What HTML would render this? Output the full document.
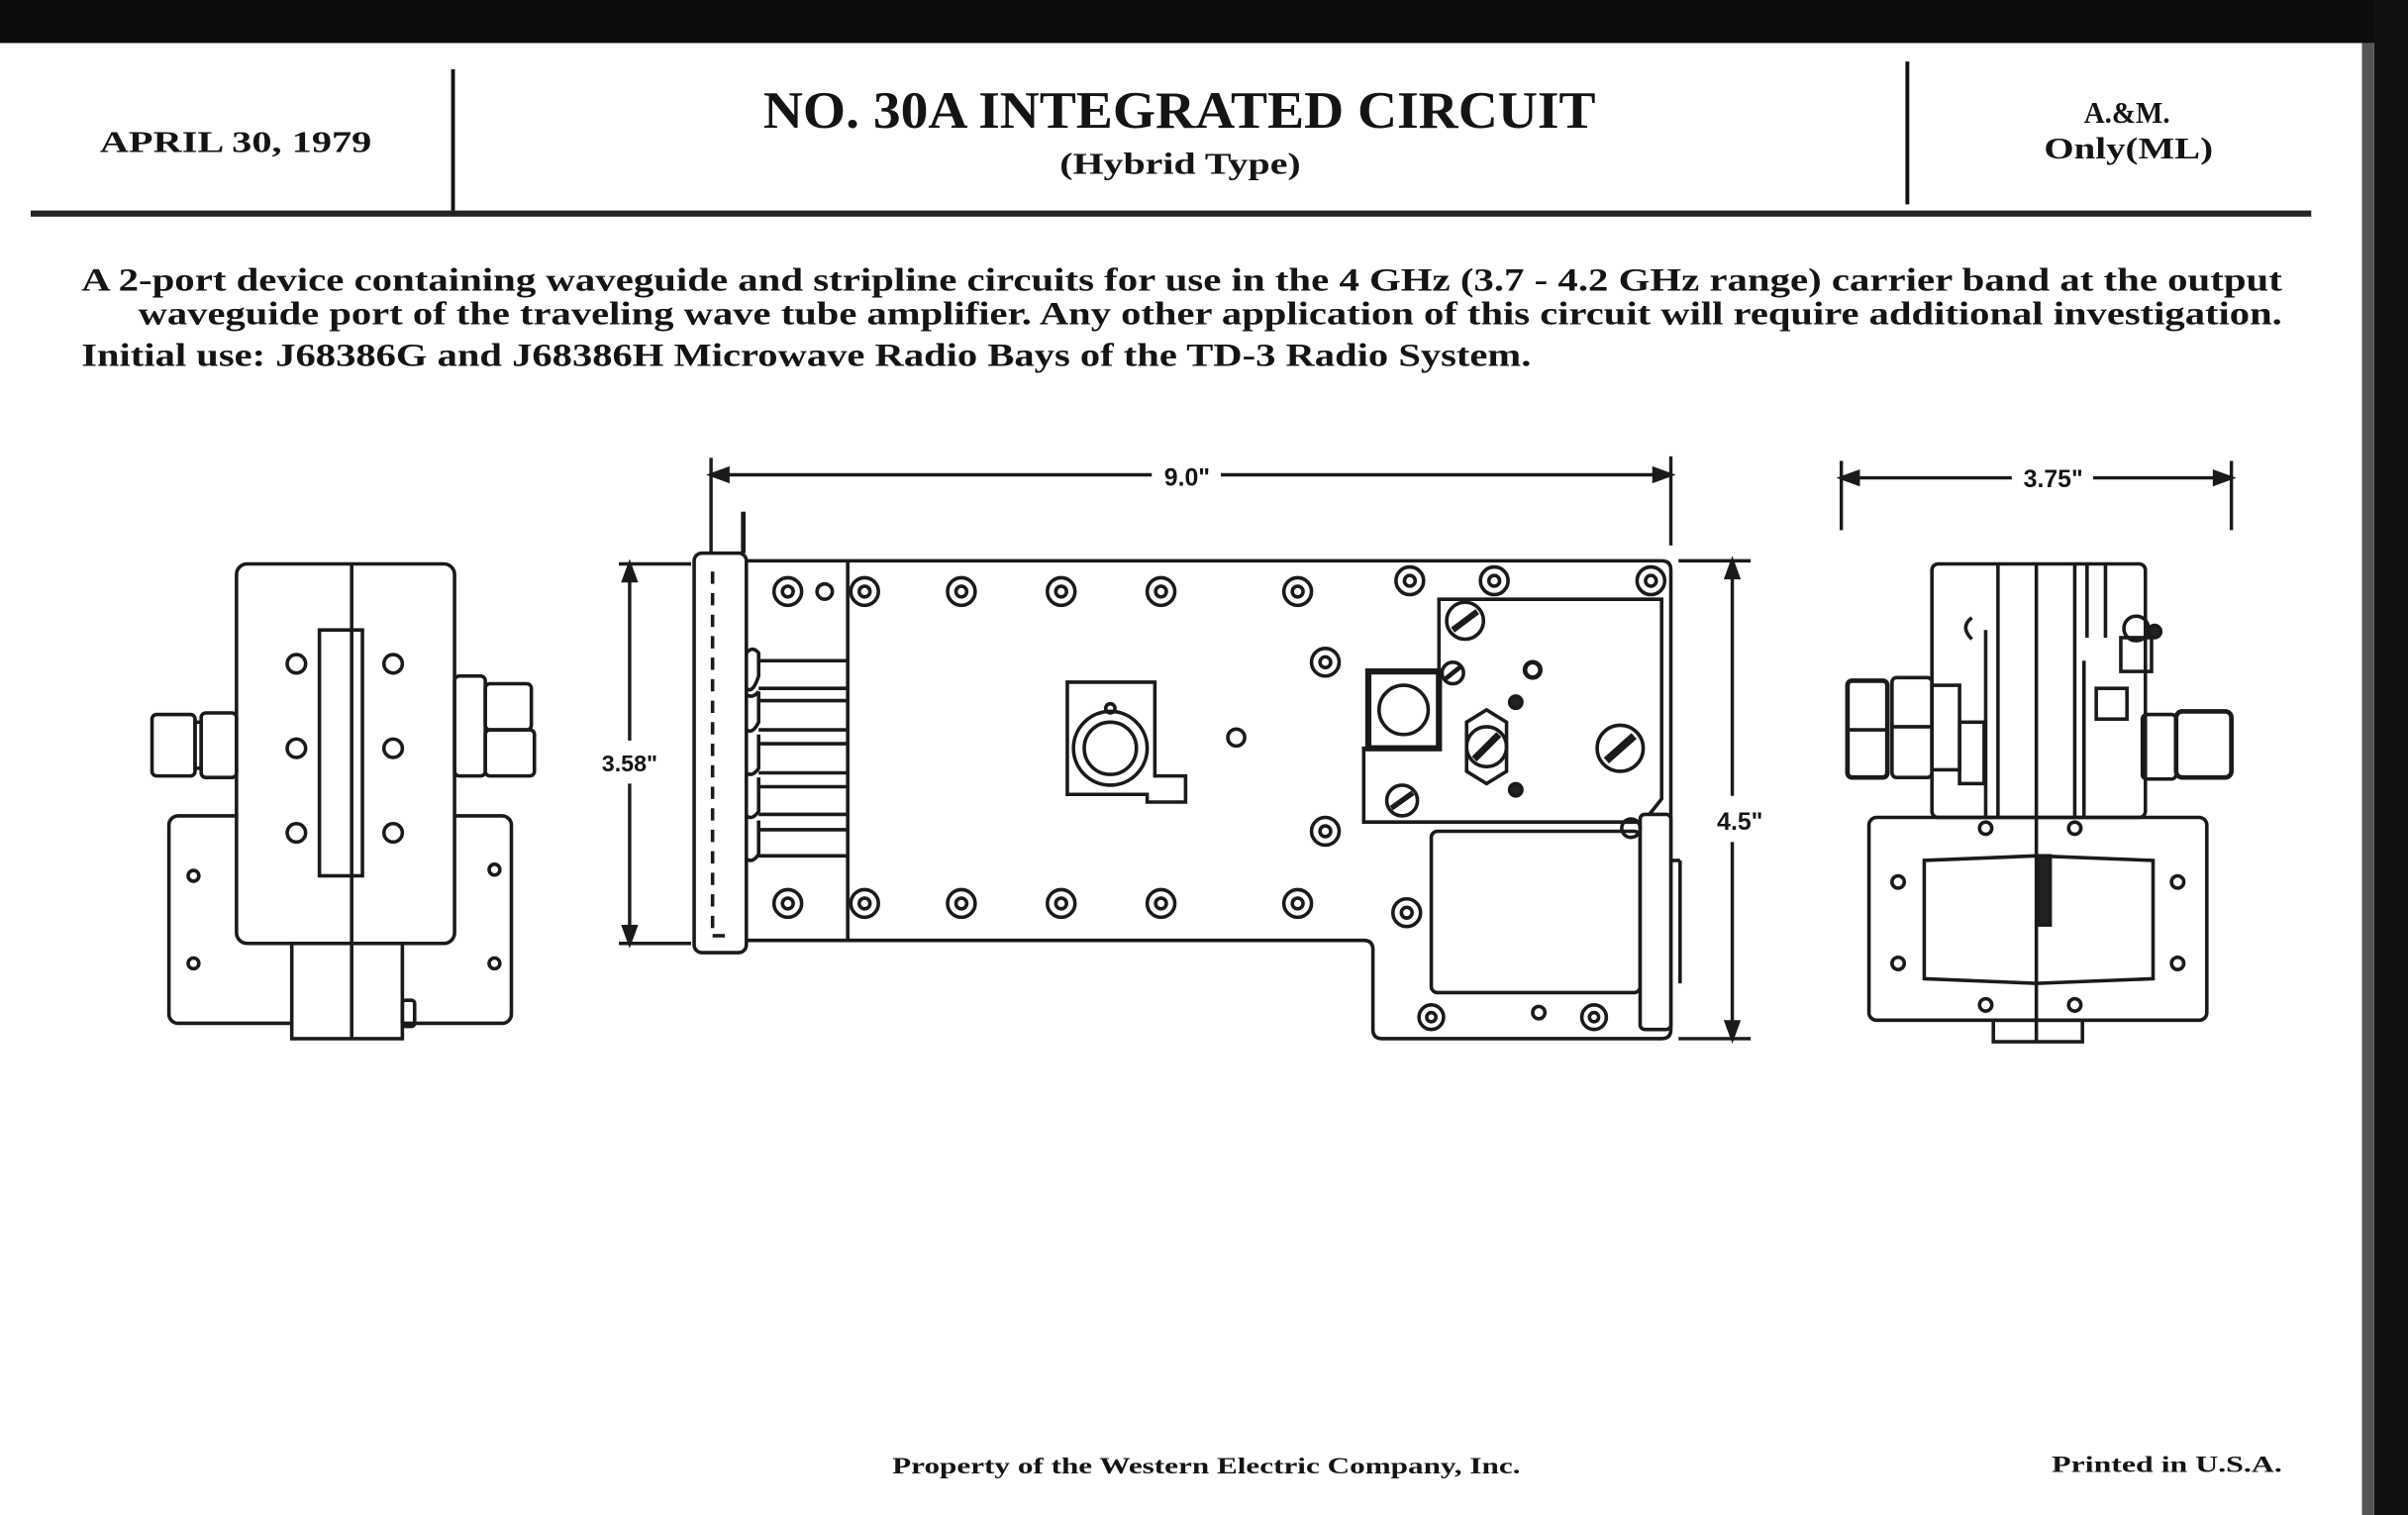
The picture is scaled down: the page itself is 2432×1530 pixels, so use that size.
<!DOCTYPE html>
<html><head><meta charset="utf-8"><style>
html,body{margin:0;padding:0;background:#fff;overflow:hidden}
svg{display:block}
text{font-family:"Liberation Serif",serif;font-weight:bold;fill:#141414}
.s{font-family:"Liberation Sans",sans-serif}
</style></head><body>
<svg width="2432" height="1530" viewBox="0 0 1568 986" preserveAspectRatio="none" xmlns="http://www.w3.org/2000/svg">
<rect x="0" y="0" width="1568" height="986" fill="#fff"/>
<rect x="0" y="0" width="1568" height="28" fill="#0c0c0c"/>
<rect x="1546" y="0" width="22" height="986" fill="#111"/>
<rect x="1538" y="28" width="8" height="958" fill="#555"/>
<!-- header -->
<text x="65" y="99" font-size="20" textLength="177" lengthAdjust="spacingAndGlyphs">APRIL 30, 1979</text>
<line x1="295" y1="45" x2="295" y2="137" stroke="#111" stroke-width="2.5"/>
<text x="497" y="83" font-size="34" textLength="542" lengthAdjust="spacingAndGlyphs">NO. 30A INTEGRATED CIRCUIT</text>
<text x="690" y="113" font-size="20" textLength="157" lengthAdjust="spacingAndGlyphs">(Hybrid Type)</text>
<line x1="1242" y1="40" x2="1242" y2="133" stroke="#111" stroke-width="2.5"/>
<text x="1357" y="80" font-size="20" textLength="56" lengthAdjust="spacingAndGlyphs">A.&amp;M.</text>
<text x="1331" y="103" font-size="20" textLength="110" lengthAdjust="spacingAndGlyphs">Only(ML)</text>
<rect x="20" y="137" width="1485" height="4" fill="#222"/>
<text x="53" y="189" font-size="21" textLength="1433" lengthAdjust="spacingAndGlyphs">A 2-port device containing waveguide and stripline circuits for use in the 4 GHz (3.7 - 4.2 GHz range) carrier band at the output</text>
<text x="90" y="211" font-size="21" textLength="1396" lengthAdjust="spacingAndGlyphs">waveguide port of the traveling wave tube amplifier.  Any other application of this circuit will require additional investigation.</text>
<text x="53" y="238" font-size="21" textLength="944" lengthAdjust="spacingAndGlyphs">Initial use:  J68386G and J68386H Microwave Radio Bays of the TD-3 Radio System.</text>
<text x="581" y="959" font-size="15" textLength="409" lengthAdjust="spacingAndGlyphs">Property of the Western Electric Company, Inc.</text>
<text x="1336" y="958" font-size="15" textLength="150" lengthAdjust="spacingAndGlyphs">Printed in U.S.A.</text>

<g fill="none" stroke="#1a1a1a" stroke-width="2.3">
<!-- LEFT VIEW -->
<rect x="110" y="531" width="223" height="135" rx="6"/>
<rect x="154" y="367" width="142" height="247" rx="7" fill="#fff"/>
<line x1="229" y1="367" x2="229" y2="676"/>
<rect x="208" y="410" width="28" height="160"/>
<circle cx="193" cy="432" r="6"/><circle cx="256" cy="432" r="6"/>
<circle cx="193" cy="487" r="6"/><circle cx="256" cy="487" r="6"/>
<circle cx="193" cy="542" r="6"/><circle cx="256" cy="542" r="6"/>
<rect x="190" y="614" width="72" height="62" fill="#fff"/>
<line x1="229" y1="614" x2="229" y2="676"/>
<rect x="262" y="651" width="8" height="17" rx="2"/>
<circle cx="126" cy="570" r="3.5"/><circle cx="126" cy="627" r="3.5"/>
<circle cx="322" cy="566" r="3.5"/><circle cx="322" cy="627" r="3.5"/>
<rect x="99" y="465" width="28" height="40" rx="3"/>
<rect x="127" y="470" width="4" height="30"/>
<rect x="131" y="464" width="23" height="42" rx="3"/>
<rect x="296" y="440" width="20" height="65" rx="3"/>
<rect x="316" y="445" width="30" height="30" rx="3"/>
<rect x="316" y="475" width="32" height="30" rx="3"/>

<!-- CENTER VIEW -->
<path d="M552 365 H1082 Q1088 365 1088 371 V670 Q1088 676 1082 676 H900 Q894 676 894 670 V618 Q894 612 888 612 H486"/>
<rect x="452" y="360" width="34" height="260" rx="5" fill="#fff"/>
<line x1="464" y1="372" x2="464" y2="608" stroke-dasharray="8 6"/>
<line x1="464" y1="609" x2="472" y2="609"/>
<line x1="484" y1="333" x2="484" y2="360" stroke-width="3"/>
<line x1="552" y1="365" x2="552" y2="612"/>
<line x1="486" y1="365" x2="552" y2="365"/>
<path d="M486 425 Q490 420 494 425 V430 H552"/><path d="M494 430 V440 Q490 452 486 448"/><line x1="494" y1="448" x2="552" y2="448"/>
<path d="M494 450 Q490 455 486 452 M494 450 V470 Q490 478 486 475 M494 456 H552 M494 475 H552"/>
<path d="M494 478 V500 Q490 506 486 503 M494 484 H552 M494 503 H552"/>
<path d="M494 506 V528 Q490 534 486 531 M494 512 H552 M494 530 H552"/>
<path d="M494 534 V556 Q490 562 486 559 M494 540 H552 M494 557 H552"/>
<g>
<circle cx="513" cy="385" r="9"/><circle cx="513" cy="385" r="3.5"/>
<circle cx="537" cy="385" r="5"/>
<circle cx="563" cy="385" r="9"/><circle cx="563" cy="385" r="3.5"/>
<circle cx="626" cy="385" r="9"/><circle cx="626" cy="385" r="3.5"/>
<circle cx="691" cy="385" r="9"/><circle cx="691" cy="385" r="3.5"/>
<circle cx="756" cy="385" r="9"/><circle cx="756" cy="385" r="3.5"/>
<circle cx="845" cy="385" r="9"/><circle cx="845" cy="385" r="3.5"/>
<circle cx="513" cy="588" r="9"/><circle cx="513" cy="588" r="3.5"/>
<circle cx="563" cy="588" r="9"/><circle cx="563" cy="588" r="3.5"/>
<circle cx="626" cy="588" r="9"/><circle cx="626" cy="588" r="3.5"/>
<circle cx="691" cy="588" r="9"/><circle cx="691" cy="588" r="3.5"/>
<circle cx="756" cy="588" r="9"/><circle cx="756" cy="588" r="3.5"/>
<circle cx="845" cy="588" r="9"/><circle cx="845" cy="588" r="3.5"/>
<circle cx="918" cy="378" r="9"/><circle cx="918" cy="378" r="3.5"/>
<circle cx="973" cy="378" r="9"/><circle cx="973" cy="378" r="3.5"/>
<circle cx="1075" cy="378" r="9"/><circle cx="1075" cy="378" r="3.5"/>
<circle cx="863" cy="431" r="9"/><circle cx="863" cy="431" r="3.5"/>
<circle cx="863" cy="541" r="9"/><circle cx="863" cy="541" r="3.5"/>
<circle cx="916" cy="594" r="9"/><circle cx="916" cy="594" r="3.5"/>
<circle cx="932" cy="662" r="8"/><circle cx="932" cy="662" r="3"/>
<circle cx="1038" cy="662" r="8"/><circle cx="1038" cy="662" r="3"/>
<circle cx="805" cy="480" r="5.5"/><circle cx="1002" cy="659" r="4"/>
</g>
<path d="M695 444 H752 V505 H772 V522 H747 V517 H695 Z"/>
<circle cx="723" cy="487" r="24"/><circle cx="723" cy="487" r="17"/>
<circle cx="723" cy="461" r="3"/>
<path d="M937 390 H1082 V520 L1070 535 H888 V487 H937 Z"/>
<rect x="891" y="437" width="46" height="50" stroke-width="4"/>
<circle cx="914" cy="462" r="16"/>
<circle cx="954" cy="404" r="12"/><line x1="946" y1="410" x2="962" y2="398" stroke-width="4"/>
<circle cx="946" cy="438" r="7"/><line x1="941" y1="442" x2="951" y2="434" stroke-width="3"/>
<circle cx="913" cy="521" r="10"/><line x1="906" y1="526" x2="920" y2="516" stroke-width="3.5"/>
<path d="M955 470 L968 462 L981 470 L981 502 L968 510 L955 502 Z"/>
<circle cx="968" cy="486" r="13"/><line x1="960" y1="494" x2="976" y2="478" stroke-width="4.5"/>
<circle cx="1055" cy="487" r="15"/><line x1="1046" y1="495" x2="1064" y2="479" stroke-width="5"/>
<circle cx="998" cy="436" r="5" stroke-width="3"/>
<circle cx="987" cy="457" r="4" fill="#222"/><circle cx="987" cy="514" r="4" fill="#222"/>
<rect x="932" y="541" width="136" height="105" rx="4"/>
<rect x="1068" y="530" width="20" height="140" rx="3" fill="#fff"/>
<line x1="1088" y1="560" x2="1094" y2="560"/><line x1="1094" y1="560" x2="1094" y2="640"/>
<circle cx="1062" cy="539" r="6"/>
</g>

<g stroke="#1a1a1a" stroke-width="2.2" fill="#1a1a1a">
<line x1="463" y1="298" x2="463" y2="360"/><line x1="1088" y1="297" x2="1088" y2="355"/>
<line x1="463" y1="309" x2="750" y2="309"/><line x1="795" y1="309" x2="1088" y2="309"/>
<path d="M463 309 L474 305 L474 313 Z"/><path d="M1088 309 L1077 305 L1077 313 Z"/>
<line x1="403" y1="367" x2="450" y2="367"/><line x1="403" y1="614" x2="450" y2="614"/>
<line x1="410" y1="367" x2="410" y2="482"/><line x1="410" y1="510" x2="410" y2="614"/>
<path d="M410 367 L406 378 L414 378 Z"/><path d="M410 614 L406 603 L414 603 Z"/>
<line x1="1093" y1="365" x2="1140" y2="365"/><line x1="1093" y1="676" x2="1140" y2="676"/>
<line x1="1128" y1="365" x2="1128" y2="518"/><line x1="1128" y1="548" x2="1128" y2="676"/>
<path d="M1128 365 L1124 376 L1132 376 Z"/><path d="M1128 676 L1124 665 L1132 665 Z"/>
<line x1="1199" y1="300" x2="1199" y2="345"/><line x1="1453" y1="300" x2="1453" y2="345"/>
<line x1="1199" y1="311" x2="1310" y2="311"/><line x1="1363" y1="311" x2="1453" y2="311"/>
<path d="M1199 311 L1210 307 L1210 315 Z"/><path d="M1453 311 L1442 307 L1442 315 Z"/>
</g>
<text class="s" x="773" y="316" font-size="16" text-anchor="middle">9.0"</text>
<text class="s" x="410" y="502" font-size="15" text-anchor="middle">3.58"</text>
<text class="s" x="1133" y="540" font-size="16" text-anchor="middle">4.5"</text>
<text class="s" x="1337" y="317" font-size="16" text-anchor="middle">3.75"</text>

<g fill="none" stroke="#1a1a1a" stroke-width="2.3">
<rect x="1258" y="367" width="139" height="165" rx="4"/>
<line x1="1301" y1="367" x2="1301" y2="532"/><line x1="1351" y1="367" x2="1351" y2="532"/>
<line x1="1326" y1="367" x2="1326" y2="678"/>
<line x1="1359" y1="367" x2="1359" y2="415"/><line x1="1371" y1="367" x2="1371" y2="415"/>
<line x1="1293" y1="410" x2="1293" y2="532"/><line x1="1357" y1="430" x2="1357" y2="532"/>
<rect x="1217" y="532" width="220" height="132" rx="5"/>
<path d="M1253 560 L1326 557 L1402 560 V637 L1326 640 L1253 637 Z"/>
<rect x="1327" y="557" width="8" height="45" fill="#222"/>
<circle cx="1236" cy="574" r="4"/><circle cx="1236" cy="627" r="4"/>
<circle cx="1418" cy="574" r="4"/><circle cx="1418" cy="627" r="4"/>
<circle cx="1293" cy="654" r="4"/><circle cx="1351" cy="654" r="4"/>
<circle cx="1293" cy="539" r="4"/><circle cx="1351" cy="539" r="4"/>
<rect x="1298" y="664" width="58" height="14"/>
<rect x="1203" y="443" width="26" height="63" rx="3" stroke-width="3"/>
<line x1="1203" y1="475" x2="1229" y2="475"/>
<rect x="1232" y="441" width="26" height="65" rx="3"/>
<line x1="1232" y1="473" x2="1258" y2="473"/>
<rect x="1258" y="446" width="18" height="55"/>
<rect x="1276" y="470" width="16" height="40"/>
<rect x="1381" y="415" width="20" height="22"/>
<circle cx="1391" cy="409" r="8"/>
<circle cx="1403" cy="411" r="4" fill="#222"/>
<rect x="1365" y="448" width="20" height="20"/>
<rect x="1395" y="465" width="22" height="42" rx="3"/>
<rect x="1417" y="463" width="36" height="43" rx="4" stroke-width="3"/>
<path d="M1284 402 Q1276 408 1284 416"/>
</g>
</svg>
</body></html>
